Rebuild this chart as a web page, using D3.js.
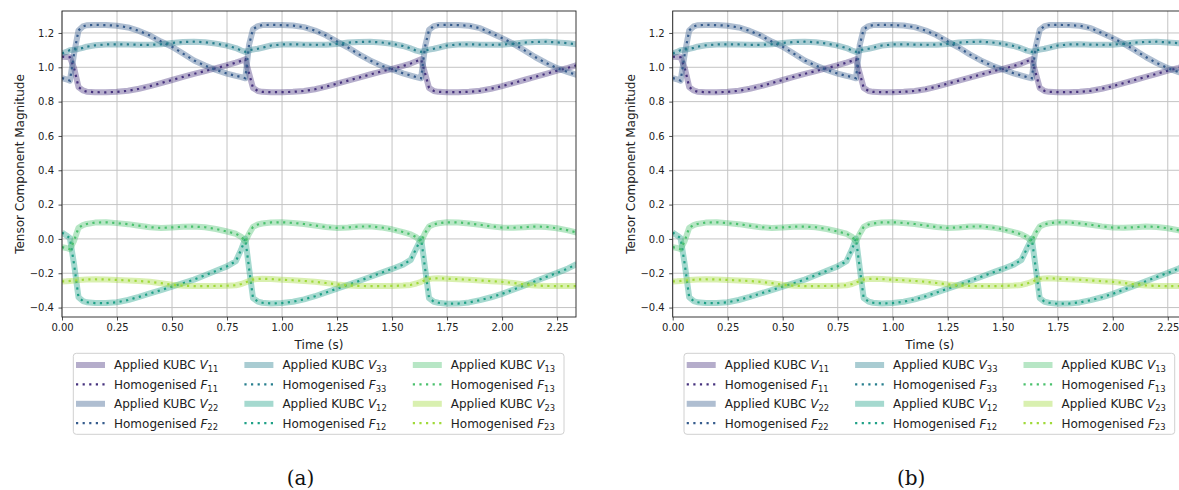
<!DOCTYPE html>
<html>
<head>
<meta charset="utf-8">
<script src="https://cdn.jsdelivr.net/npm/d3@7"></script>
<style>
body { margin: 0; background: #fff; }
svg { display: block; font-family: "DejaVu Sans", sans-serif; }
</style>
</head>
<body>
<svg id="chart" width="1179" height="490"></svg>
<script>
// sample times (s), denser around the three jumps
const time = [
    0, 0.02, 0.036, 0.055, 0.075, 0.095, 0.112,
    0.15, 0.2, 0.25, 0.3, 0.35, 0.4, 0.45, 0.5, 0.55, 0.6, 0.65, 0.7, 0.75,
    0.79, 0.815, 0.833, 0.85, 0.868, 0.89, 0.91,
    0.95, 1.0, 1.05, 1.1, 1.15, 1.2, 1.25, 1.3, 1.35, 1.4, 1.45, 1.5, 1.55,
    1.585, 1.61, 1.632, 1.65, 1.668, 1.69, 1.71,
    1.75, 1.8, 1.85, 1.9, 1.95, 2.0, 2.05, 2.1, 2.15, 2.2, 2.25, 2.3, 2.34,
];

const f11 = [
    1.062, 1.06, 1.058, 0.996, 0.885, 0.865, 0.858,
    0.855, 0.854, 0.857, 0.863, 0.875, 0.89, 0.908, 0.926, 0.944, 0.962, 0.978, 0.995, 1.012,
    1.027, 1.038, 1.047, 0.965, 0.88, 0.862, 0.857,
    0.855, 0.855, 0.857, 0.862, 0.872, 0.887, 0.905, 0.922, 0.94, 0.958, 0.975, 0.99, 1.008,
    1.022, 1.035, 1.047, 0.965, 0.88, 0.862, 0.857,
    0.855, 0.855, 0.857, 0.863, 0.875, 0.89, 0.908, 0.926, 0.944, 0.962, 0.98, 0.997, 1.012,
];
const f22 = [
    0.937, 0.93, 0.922, 1.08, 1.215, 1.238, 1.245,
    1.247, 1.246, 1.242, 1.232, 1.212, 1.185, 1.15, 1.12, 1.08, 1.04, 1.01, 0.985, 0.963,
    0.95, 0.943, 0.936, 1.13, 1.222, 1.24, 1.246,
    1.247, 1.246, 1.243, 1.234, 1.214, 1.186, 1.15, 1.115, 1.075, 1.04, 1.01, 0.987, 0.965,
    0.952, 0.943, 0.936, 1.12, 1.218, 1.24, 1.246,
    1.247, 1.246, 1.242, 1.228, 1.2, 1.17, 1.138, 1.1, 1.06, 1.025, 0.995, 0.972, 0.955,
];
const f33 = [
    1.081, 1.09, 1.1, 1.103, 1.107, 1.113, 1.12,
    1.128, 1.133, 1.134, 1.133, 1.131, 1.131, 1.134, 1.142, 1.147, 1.149, 1.146, 1.138, 1.126,
    1.112, 1.098, 1.09, 1.098, 1.104, 1.108, 1.114,
    1.127, 1.133, 1.134, 1.132, 1.131, 1.132, 1.136, 1.144, 1.148, 1.149, 1.145, 1.137, 1.124,
    1.11, 1.097, 1.09, 1.097, 1.103, 1.108, 1.114,
    1.127, 1.133, 1.134, 1.132, 1.131, 1.132, 1.137, 1.144, 1.148, 1.149, 1.145, 1.14, 1.134,
];
const f12 = [
    0.037, 0.02, 0.004, -0.15, -0.34, -0.362, -0.369,
    -0.374, -0.374, -0.369, -0.356, -0.338, -0.318, -0.298, -0.278, -0.258, -0.237, -0.212, -0.186, -0.16,
    -0.13, -0.06, 0.002, -0.17, -0.345, -0.365, -0.372,
    -0.376, -0.374, -0.366, -0.352, -0.334, -0.312, -0.29, -0.268, -0.245, -0.222, -0.198, -0.175, -0.15,
    -0.122, -0.055, 0.002, -0.17, -0.345, -0.366, -0.372,
    -0.378, -0.377, -0.37, -0.357, -0.34, -0.32, -0.296, -0.272, -0.247, -0.222, -0.198, -0.172, -0.146,
];
const f13 = [
    -0.048, -0.053, -0.06, -0.01, 0.065, 0.08, 0.087,
    0.095, 0.097, 0.092, 0.086, 0.077, 0.068, 0.064, 0.067, 0.071, 0.072, 0.068, 0.058, 0.043,
    0.03, 0.012, -0.016, 0.03, 0.07, 0.084, 0.09,
    0.096, 0.097, 0.093, 0.087, 0.078, 0.069, 0.064, 0.067, 0.072, 0.073, 0.067, 0.056, 0.04,
    0.026, 0.01, -0.016, 0.035, 0.072, 0.085, 0.091,
    0.097, 0.096, 0.09, 0.082, 0.073, 0.066, 0.065, 0.068, 0.072, 0.07, 0.062, 0.05, 0.037,
];
const f23 = [
    -0.248, -0.247, -0.245, -0.243, -0.24, -0.238, -0.236,
    -0.235, -0.236, -0.239, -0.242, -0.245, -0.25, -0.258, -0.267, -0.273, -0.275, -0.275, -0.274, -0.273,
    -0.27, -0.263, -0.254, -0.245, -0.237, -0.233, -0.232,
    -0.234, -0.238, -0.241, -0.245, -0.25, -0.257, -0.265, -0.271, -0.274, -0.275, -0.275, -0.274, -0.272,
    -0.268, -0.26, -0.25, -0.24, -0.233, -0.23, -0.229,
    -0.232, -0.235, -0.238, -0.242, -0.246, -0.25, -0.257, -0.265, -0.271, -0.274, -0.275, -0.275, -0.275,
];

const components = ['11', '22', '33', '12', '13', '23'];
const homogenised = [f11, f22, f33, f12, f13, f23];
// applied KUBC tensor follows the homogenised one exactly
const applied = homogenised;

const xTicks = [0, 0.25, 0.5, 0.75, 1.0, 1.25, 1.5, 1.75, 2.0, 2.25];
const yTicks = [-0.4, -0.2, 0.0, 0.2, 0.4, 0.6, 0.8, 1.0, 1.2];
const captions = ['(a)', '(b)'];

const colours = ['#46327e', '#365c8d', '#277f8e', '#1fa187', '#4ac16d', '#a0da39'];

const svg = d3.select('#chart');
const plotTop = 11;
const plotBottom = 317;
const plotW = 514;
const panelLeft = [62, 672.7];

const y = d3.scaleLinear().domain([-0.455, 1.328]).range([plotBottom, plotTop]);

function drawPanel(left, caption, p) {
    const x = d3.scaleLinear().domain([0, 2.336]).range([left, left + plotW]);
    const g = svg.append('g');

    g.append('defs').append('clipPath')
        .attr('id', `clip${p}`)
        .append('rect')
        .attr('x', left)
        .attr('y', plotTop)
        .attr('width', plotW)
        .attr('height', plotBottom - plotTop);

    // grid
    g.append('g').selectAll('line').data(xTicks).join('line')
        .attr('x1', d => x(d)).attr('x2', d => x(d))
        .attr('y1', plotTop).attr('y2', plotBottom)
        .attr('stroke', '#c4c4c4').attr('stroke-width', 1);
    g.append('g').selectAll('line').data(yTicks).join('line')
        .attr('x1', left).attr('x2', left + plotW)
        .attr('y1', d => y(d)).attr('y2', d => y(d))
        .attr('stroke', '#c4c4c4').attr('stroke-width', 1);

    const lines = g.append('g').attr('clip-path', `url(#clip${p})`);
    const line = d3.line()
        .x((d, i) => x(time[i]))
        .y(d => y(d));

    components.forEach((c, k) => {
        lines.append('path')
            .datum(applied[k])
            .attr('fill', 'none')
            .attr('stroke', colours[k])
            .attr('stroke-opacity', 0.4)
            .attr('stroke-width', 6)
            .attr('stroke-linejoin', 'round')
            .attr('d', line);
        lines.append('path')
            .datum(homogenised[k])
            .attr('fill', 'none')
            .attr('stroke', colours[k])
            .attr('stroke-width', 2.2)
            .attr('stroke-dasharray', '2.2,4.4')
            .attr('d', line);
    });

    // axes
    const xAxis = g.append('g')
        .attr('transform', `translate(0,${plotBottom})`)
        .call(d3.axisBottom(x).tickValues(xTicks).tickSize(3.5).tickPadding(3.5)
            .tickFormat(d3.format('.2f')));
    const yAxis = g.append('g')
        .attr('transform', `translate(${left},0)`)
        .call(d3.axisLeft(y).tickValues(yTicks).tickSize(3.5).tickPadding(4.5)
            .tickFormat(d3.format('.1f')));
    [xAxis, yAxis].forEach((a) => {
        a.select('.domain').remove();
        a.selectAll('.tick line').attr('stroke', '#222').attr('stroke-width', 0.8);
        a.selectAll('.tick text').attr('fill', '#222').style('font-size', '10px')
            .style('font-family', '"DejaVu Sans", sans-serif');
    });

    g.append('rect')
        .attr('x', left).attr('y', plotTop)
        .attr('width', plotW).attr('height', plotBottom - plotTop)
        .attr('fill', 'none').attr('stroke', '#222').attr('stroke-width', 0.9);

    g.append('text')
        .attr('x', left + plotW / 2).attr('y', 348.5)
        .attr('text-anchor', 'middle').attr('font-size', 12).attr('fill', '#222')
        .text('Time (s)');
    g.append('text')
        .attr('transform', `translate(${left - 42},${(plotTop + plotBottom) / 2}) rotate(-90)`)
        .attr('text-anchor', 'middle').attr('dy', '0.35em')
        .attr('font-size', 12).attr('fill', '#222')
        .text('Tensor Component Magnitude');

    // legend
    const lg = g.append('g');
    lg.append('rect')
        .attr('x', left + 11.3).attr('y', 353.3)
        .attr('width', 490.7).attr('height', 81)
        .attr('rx', 3)
        .attr('fill', '#fff').attr('stroke', '#d0d0d0').attr('stroke-width', 1);

    d3.range(12).forEach((i) => {
        const k = Math.floor(i / 2);
        const kind = i % 2;
        const col = Math.floor(k / 2);
        const row = i % 4;
        const hx = left + 14 + col * 168.4;
        const hy = 365 + row * 19.4;
        const h = lg.append('line')
            .attr('x1', hx).attr('x2', hx + 29)
            .attr('y1', hy).attr('y2', hy)
            .attr('stroke', colours[k]);
        if (kind === 0) {
            h.attr('stroke-width', 6).attr('stroke-opacity', 0.4);
        } else {
            h.attr('stroke-width', 2.2).attr('stroke-dasharray', '2.2,4.4');
        }
        const t = lg.append('text')
            .attr('x', hx + 38).attr('y', hy + 4.3)
            .attr('font-size', 12).attr('fill', '#222');
        t.append('tspan').text(kind === 0 ? 'Applied KUBC ' : 'Homogenised ');
        t.append('tspan').attr('font-style', 'italic').text(kind === 0 ? 'V' : 'F');
        t.append('tspan').attr('font-size', 8.4).attr('dy', 2.8).text(components[k]);
    });

    g.append('text')
        .attr('x', left + plotW / 2 - 18.5).attr('y', 485)
        .attr('text-anchor', 'middle')
        .style('font-family', '"DejaVu Serif", serif')
        .attr('font-size', 20).attr('fill', '#111')
        .text(caption);
}

panelLeft.forEach((left, p) => drawPanel(left, captions[p], p));
</script>
</body>
</html>
